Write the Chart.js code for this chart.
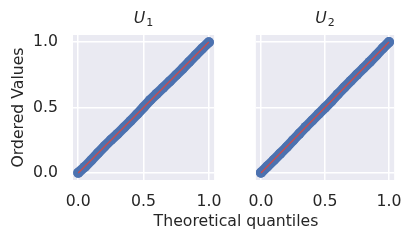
<!DOCTYPE html>
<html>
<head>
<meta charset="utf-8">
<script src="https://cdn.jsdelivr.net/npm/chart.js@4"></script>
<style>
  html, body { margin: 0; padding: 0; background: #fff; }
  #wrap { position: relative; width: 415px; height: 242px; overflow: hidden; }
  #c1 { position: absolute; left: 0; top: 0; }
  #c2 { position: absolute; left: 235px; top: 0; }
  #xlab { position: absolute; left: 0; width: 472px; top: 211px; text-align: center;
          font: 15.7px "DejaVu Sans"; color: #262626; white-space: nowrap; }
</style>
</head>
<body>
<div id="wrap">
  <canvas id="c1" width="235" height="242"></canvas>
  <canvas id="c2" width="180" height="242"></canvas>
  <div id="xlab">Theoretical quantiles</div>
</div>
<script>
    // data
    const titleSubs = ['1', '2'];
    const tickVals = [0, 0.5, 1];
    const theoQ = [0, 0.05, 0.1, 0.15, 0.2, 0.25, 0.3, 0.35, 0.4, 0.45, 0.5, 0.55, 0.6, 0.65, 0.7, 0.75, 0.8, 0.85, 0.9, 0.95, 1.0];
    const u1Ordered = [0.002, 0.047, 0.098, 0.151, 0.203, 0.252, 0.298, 0.348, 0.397, 0.448, 0.502, 0.556, 0.604, 0.651, 0.699, 0.748, 0.797, 0.849, 0.901, 0.951, 0.998];
    const u2Ordered = [0.003, 0.051, 0.099, 0.148, 0.197, 0.249, 0.301, 0.352, 0.401, 0.451, 0.499, 0.548, 0.602, 0.653, 0.702, 0.751, 0.799, 0.848, 0.899, 0.951, 0.999];
    const refLine = [0, 1];

    const textColor = '#262626';
    const font = { family: 'DejaVu Sans', size: 15.7 };

    // title like matplotlib mathtext: italic U with a small upright subscript
    const mathTitle = {
        id: 'mathTitle',
        afterDraw(chart, args, opts) {
            const ctx = chart.ctx, a = chart.chartArea;
            ctx.save();
            ctx.fillStyle = textColor;
            ctx.textBaseline = 'alphabetic';
            ctx.font = 'italic 15.7px "DejaVu Sans"';
            const wU = ctx.measureText('U').width;
            ctx.font = '11px "DejaVu Sans"';
            const wS = ctx.measureText(opts.sub).width;
            const x0 = (a.left + a.right) / 2 - (wU + wS + 1) / 2;
            ctx.font = 'italic 15.7px "DejaVu Sans"';
            ctx.fillText('U', x0, 23);
            ctx.font = '11px "DejaVu Sans"';
            ctx.fillText(opts.sub, x0 + wU + 1, 26);
            ctx.restore();
        }
    };

    const plotBg = {
        id: 'plotBg',
        beforeDraw(chart) {
            const a = chart.chartArea, ctx = chart.ctx;
            ctx.save();
            ctx.fillStyle = '#EAEAF2';
            ctx.fillRect(a.left, a.top, a.right - a.left, a.bottom - a.top);
            ctx.restore();
        }
    };

    function makeChart(id, sub, ordered, showY, pad) {
        const pts = theoQ.map((q, i) => ({ x: q, y: ordered[i] }));
        return new Chart(document.getElementById(id).getContext('2d'), {
            type: 'scatter',
            data: {
                datasets: [{
                    data: refLine.map(v => ({ x: v, y: v })),
                    showLine: true,
                    borderColor: '#C44E52',
                    borderWidth: 1.5,
                    pointRadius: 0,
                    order: 0
                }, {
                    data: pts,
                    showLine: true,
                    borderColor: '#4C72B0',
                    backgroundColor: '#4C72B0',
                    borderWidth: 10,
                    borderCapStyle: 'round',
                    borderJoinStyle: 'round',
                    pointRadius: 5,
                    pointBorderWidth: 0,
                    order: 1
                }]
            },
            options: {
                responsive: false,
                animation: false,
                layout: { padding: pad },
                plugins: {
                    legend: { display: false },
                    tooltip: { enabled: false },
                    title: { display: false },
                    mathTitle: { sub: sub }
                },
                scales: {
                    x: {
                        type: 'linear',
                        min: -0.04, max: 1.04,
                        afterBuildTicks: s => { s.ticks = tickVals.map(v => ({ value: v })); },
                        afterFit: s => { s.height = 30; },
                        grid: { color: '#ffffff', lineWidth: 1.5, drawTicks: false },
                        border: { display: false },
                        ticks: { color: textColor, font: font, padding: 13, maxRotation: 0,
                                 callback: v => v.toFixed(1) }
                    },
                    y: {
                        type: 'linear',
                        min: -0.053, max: 1.053,
                        afterBuildTicks: s => { s.ticks = tickVals.map(v => ({ value: v })); },
                        afterFit: s => { s.width = showY ? 73 : 0; },
                        grid: { color: '#ffffff', lineWidth: 1.5, drawTicks: false },
                        border: { display: false },
                        title: { display: showY, text: 'Ordered Values', color: textColor, font: font, padding: { top: 9.5, bottom: 0 } },
                        ticks: { display: showY, color: textColor, font: font, padding: 15,
                                 callback: v => v.toFixed(1) }
                    }
                }
            },
            plugins: [plotBg, mathTitle]
        });
    }

    makeChart('c1', titleSubs[0], u1Ordered, true, { left: 0, right: 17, top: 35, bottom: 32 });
    makeChart('c2', titleSubs[1], u2Ordered, false, { left: 16, right: 18, top: 35, bottom: 32 });
</script>
</body>
</html>
